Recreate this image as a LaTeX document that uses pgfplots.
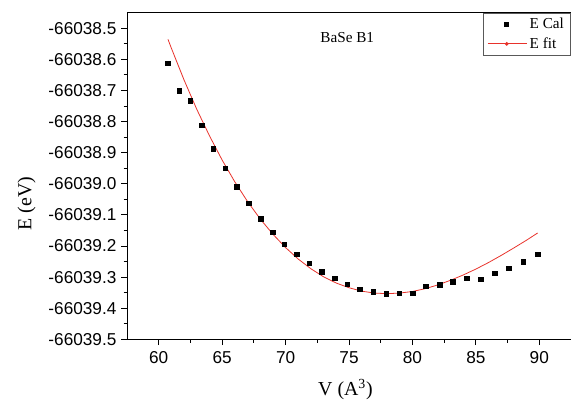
\documentclass[border=0pt]{standalone}
\usepackage{fontspec}
\setmainfont{Liberation Serif}
\setsansfont{Liberation Sans}
\usepackage{pgfplots}
\pgfplotsset{compat=1.18}

\definecolor{fitred}{HTML}{E8322B}

% E (eV) computed points, V in A^3
\pgfplotstableread{
V      E
60.73  -66038.613
61.62  -66038.701
62.50  -66038.734
63.39  -66038.812
64.30  -66038.887
65.24  -66038.951
66.16  -66039.010
67.10  -66039.063
68.04  -66039.113
68.97  -66039.156
69.91  -66039.194
70.90  -66039.227
71.87  -66039.255
72.86  -66039.282
73.87  -66039.304
74.87  -66039.322
75.86  -66039.339
76.90  -66039.347
77.92  -66039.353
78.96  -66039.352
80.01  -66039.351
81.05  -66039.329
82.14  -66039.325
83.18  -66039.315
84.28  -66039.304
85.38  -66039.306
86.47  -66039.287
87.60  -66039.271
88.72  -66039.251
89.87  -66039.226
}\ecal

% fitted curve
\pgfplotstableread{
V      E
60.73  -66038.536
61.00  -66038.565
62.00  -66038.667
63.00  -66038.761
64.00  -66038.846
65.00  -66038.924
66.00  -66038.994
67.00  -66039.057
68.00  -66039.113
69.00  -66039.162
70.00  -66039.205
71.00  -66039.242
72.00  -66039.273
73.00  -66039.299
74.00  -66039.319
75.00  -66039.334
76.00  -66039.345
77.00  -66039.351
78.00  -66039.353
79.00  -66039.351
80.00  -66039.346
81.00  -66039.337
82.00  -66039.325
83.00  -66039.310
84.00  -66039.293
85.00  -66039.274
86.00  -66039.253
87.00  -66039.230
88.00  -66039.206
89.00  -66039.181
89.87  -66039.158
}\efit

\begin{document}
\begin{tikzpicture}
\begin{axis}[
  name=ax,
  scale only axis,
  width=335.5pt, height=247pt,
  xmin=57.5, xmax=92.5,
  ymin=-66039.5, ymax=-66038.45,
  xtick={60,65,...,90},
  ytick={-66039.5,-66039.4,-66039.3,-66039.2,-66039.1,-66039.0,
         -66038.9,-66038.8,-66038.7,-66038.6,-66038.5},
  scaled y ticks=false,
  minor x tick num=1, minor y tick num=1,
  tick pos=left, tick align=outside,
  major tick length=4.5pt, minor tick length=2.6pt,
  axis line style={black, line width=0.7pt},
  every tick/.style={black, line width=0.7pt},
  tick label style={font=\sffamily\fontsize{13}{15}\selectfont},
  /pgf/number format/assume math mode=true,
  xticklabel style={yshift=-1pt},
  yticklabel style={/pgf/number format/fixed, /pgf/number format/fixed zerofill,
                    /pgf/number format/precision=1, /pgf/number format/1000 sep={}},
  xlabel={V (A\textsuperscript{3})},
  ylabel={E (eV)},
  every axis x label/.style={at={(axis description cs:0.492,-0.152)}, anchor=center,
                             font=\fontsize{15}{18}\selectfont},
  every axis y label/.style={at={(axis description cs:-0.226,0.416)}, anchor=center,
                             rotate=90, font=\fontsize{15}{18}\selectfont},
  legend style={at={(rel axis cs:1,1)}, anchor=north east,
                draw=gray!70!black, line width=0.7pt,
                font=\fontsize{11.5}{13}\selectfont,
                inner xsep=3pt, inner ysep=2pt, row sep=1pt,
                cells={anchor=west}},
  legend image code/.code={\draw[#1] plot coordinates {(0.5cm,0cm)};},
]
\addplot[only marks, mark=square*, mark size=1.7pt, black] table[x=V,y=E] {\ecal};
\addlegendentry{E Cal}
\addplot[fitred, line width=0.6pt, no marks,
  legend image code/.code={\draw[fitred,line width=0.6pt] (0cm,0cm)--(1.03cm,0cm);
                           \fill[fitred] (0.5cm,0cm) circle (1.1pt);}]
  table[x=V,y=E] {\efit};
\addlegendentry{E fit}
\node[font=\fontsize{11.5}{13}\selectfont] at (rel axis cs:0.496,0.923) {BaSe B1};
\end{axis}
\pgfresetboundingbox
\path (ax.south west) ++(-96pt,-46.5pt) coordinate (bl);
\path (ax.north east) ++(-3.26pt,9.5pt) coordinate (tr);
\path (bl) rectangle (tr);
\end{tikzpicture}
\end{document}
